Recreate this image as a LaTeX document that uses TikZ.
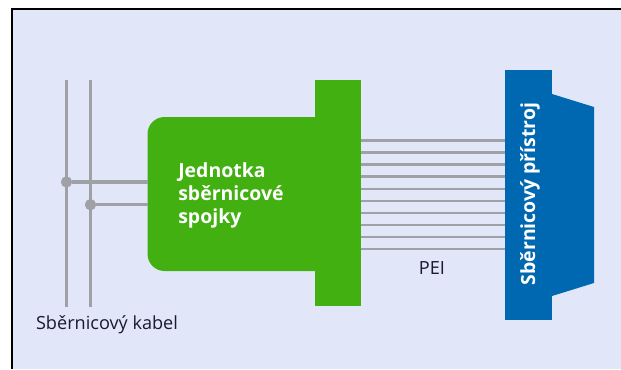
\documentclass[tikz,border=0pt]{standalone}
\usepackage{fontspec}
\setmainfont{Open Sans}
\definecolor{bgc}{HTML}{E1E6F9}
\definecolor{greenc}{HTML}{41B010}
\definecolor{bluec}{HTML}{0067B1}
\definecolor{wirec}{HTML}{9FA1A6}
\definecolor{txtc}{HTML}{1A1A30}
\tikzset{
  x=0.75pt,y=-0.75pt,
  wire/.style={draw=wirec,line width=2.4pt},
  pei/.style={draw=wirec,line width=2pt},
  dotn/.style={circle,fill=wirec,inner sep=0pt,minimum size=8.5pt},
  greenbox/.style={fill=greenc,draw=none,inner sep=0pt,outer sep=0pt},
  bluebox/.style={fill=bluec,draw=none,inner sep=0pt,outer sep=0pt},
  lightlabel/.style={text=white,font=\fontsize{14.6}{17.6}\selectfont\bfseries,align=left,inner sep=0pt},
  darklabel/.style={text=txtc,font=\fontsize{13.6}{16}\selectfont,inner sep=0pt},
}
\begin{document}
\begin{tikzpicture}
\useasboundingbox (0,0) rectangle (621,369);
\fill[white] (0,0) rectangle (621,369);
\fill[bgc] (12,9) rectangle (621,369);
\draw[black,line width=1.6pt] (12,369) -- (12,9) -- (621,9);
% bus
\coordinate (b1t) at (66.5,80); \coordinate (b1b) at (66.5,307);
\coordinate (b2t) at (90.5,80); \coordinate (b2b) at (90.5,307);
\draw[wire] (b1t) -- (b1b);
\draw[wire] (b2t) -- (b2b);
% unit
\node[greenbox,rounded corners=17*0.75pt,minimum width=0.75pt*190,minimum height=0.75pt*154,anchor=north west] (unit) at (147.5,117) {};
\node[greenbox,minimum width=0.75pt*46,minimum height=0.75pt*226,anchor=north west] (flange) at (315,80) {};
% device
\fill[bluec] (545,94) -- (552,94) -- (594,107) -- (594,283) -- (552,296) -- (545,296) -- cycle;
\node[bluebox,minimum width=0.75pt*47,minimum height=0.75pt*250,anchor=north west] (dev) at (505,70) {};
% taps
\node[dotn] (j1) at (66.5,182) {};
\node[dotn] (j2) at (90.5,204.7) {};
\draw[wire] (j1) -- (j1 -| unit.west);
\draw[wire] (j2) -- (j2 -| unit.west);
% PEI wires
\foreach \i/\y in {1/140.7,2/152.8,3/164.8,4/176.7,5/188.9,6/201,7/213,8/225,9/237,10/249}{
  \coordinate (w\i) at (433,\y);
  \draw[pei] (w\i -| flange.east) -- (w\i -| dev.west);
}
% labels
\node[lightlabel,anchor=north west] (ul) at (178,162) {Jednotka\\sběrnicové\\spojky};
\node[lightlabel,rotate=90] (dl) at (530,194) {Sběrnicový přístroj};
\node[darklabel] (pl) at (432,268) {PEI};
\node[darklabel] (kl) at (107,325) {Sběrnicový kabel};
\end{tikzpicture}
\end{document}
